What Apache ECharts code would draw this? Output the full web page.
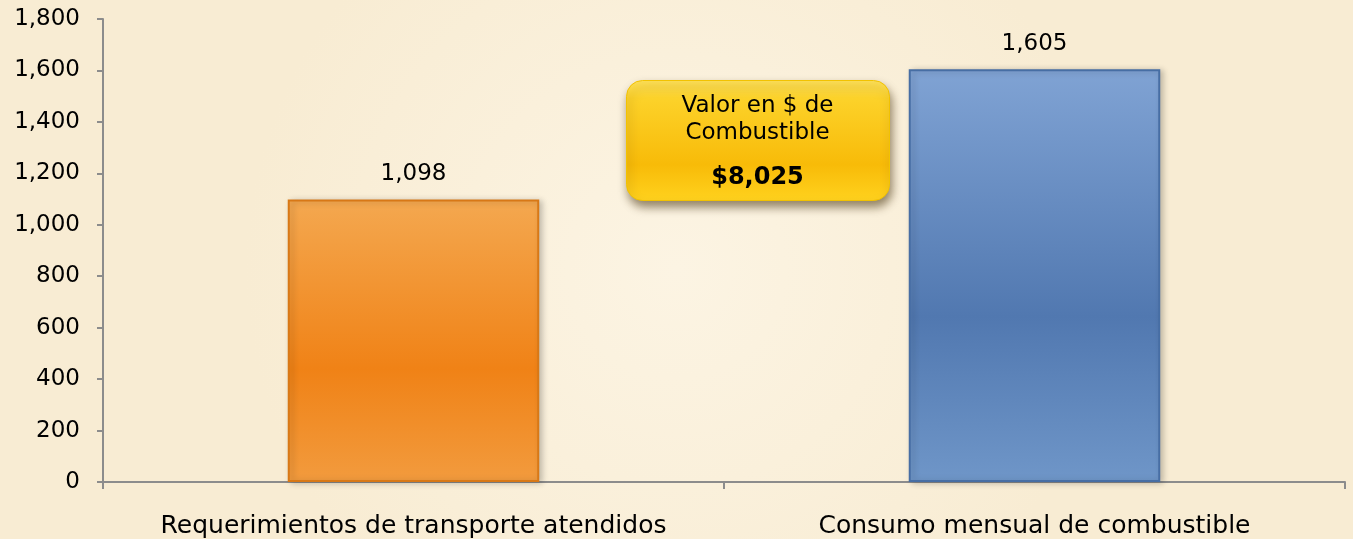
<!DOCTYPE html>
<html>
<head>
<meta charset="utf-8">
<script src="https://cdn.jsdelivr.net/npm/echarts@6/dist/echarts.min.js"></script>
<style>
  html, body { margin: 0; padding: 0; background: #f9efda; }
  #chart { width: 1353px; height: 539px; }
</style>
</head>
<body>
<div id="chart"></div>
<script>
const categories = ['Requerimientos de transporte atendidos', 'Consumo mensual de combustible']
const values = [1098, 1605]
const calloutLines = ['Valor en $ de', 'Combustible']
const calloutValue = '$8,025'

const font = '"DejaVu Sans", "Liberation Sans", sans-serif'

const barColors = [
  { top: '#f4a850', mid: '#f08216', bottom: '#f29b3e', border: '#d87816' },
  { top: '#80a3d4', mid: '#5178b0', bottom: '#6f96c8', border: '#476ea4' },
]

const chart = echarts.init(document.getElementById('chart'))

chart.setOption({
  backgroundColor: {
    type: 'radial', x: 0.5, y: 0.5, r: 0.8,
    colorStops: [
      { offset: 0, color: '#fcf4e3' },
      { offset: 1, color: '#f8ecd3' },
    ],
  },
  textStyle: { fontFamily: font },
  grid: { left: 103, right: 8, top: 19, bottom: 57 },
  xAxis: {
    type: 'category',
    data: categories,
    axisLine: { lineStyle: { color: '#8c8c8c', width: 2 } },
    axisTick: { show: true, length: 7, lineStyle: { color: '#8c8c8c', width: 2 } },
    axisLabel: { interval: 0, color: '#000', fontSize: 25, margin: 32, fontFamily: font },
  },
  yAxis: {
    type: 'value',
    min: 0,
    max: 1800,
    interval: 200,
    axisLine: { show: true, lineStyle: { color: '#8c8c8c', width: 2 } },
    axisTick: { show: true, length: 6, lineStyle: { color: '#8c8c8c', width: 2 } },
    splitLine: { show: false },
    axisLabel: {
      color: '#000', fontSize: 23, margin: 23, fontFamily: font,
      formatter: v => v.toLocaleString('en-US'),
    },
  },
  series: [{
    type: 'bar',
    barWidth: '40.5%',
    data: values.map((v, i) => ({
      value: v,
      itemStyle: {
        color: {
          type: 'linear', x: 0, y: 0, x2: 0, y2: 1,
          colorStops: [
            { offset: 0, color: barColors[i].top },
            { offset: 0.6, color: barColors[i].mid },
            { offset: 1, color: barColors[i].bottom },
          ],
        },
        borderColor: barColors[i].border,
        borderWidth: 2,
        shadowColor: 'rgba(0,0,0,0.22)',
        shadowBlur: 6,
        shadowOffsetX: 3,
        shadowOffsetY: 1,
      },
    })),
    label: {
      show: true,
      position: 'top',
      distance: 14,
      color: '#000',
      fontSize: 23,
      fontFamily: font,
      formatter: p => p.value.toLocaleString('en-US'),
    },
  }],
  graphic: [{
    type: 'group',
    left: 626,
    top: 80,
    children: [
      {
        type: 'rect',
        shape: { x: 0, y: 0, width: 263, height: 120, r: 16 },
        style: {
          fill: {
            type: 'linear', x: 0, y: 0, x2: 0, y2: 1,
            colorStops: [
              { offset: 0, color: '#ffe25a' },
              { offset: 0.15, color: '#fcd22a' },
              { offset: 0.7, color: '#f8bb08' },
              { offset: 1, color: '#ffd21e' },
            ],
          },
          stroke: '#f2c200',
          lineWidth: 1,
          shadowColor: 'rgba(60,40,0,0.55)',
          shadowBlur: 10,
          shadowOffsetX: 2,
          shadowOffsetY: 6,
        },
      },
      {
        type: 'text',
        style: {
          x: 131, y: 26, text: calloutLines[0], align: 'center', verticalAlign: 'middle',
          fill: '#000', font: '23px ' + font,
        },
      },
      {
        type: 'text',
        style: {
          x: 131, y: 53, text: calloutLines[1], align: 'center', verticalAlign: 'middle',
          fill: '#000', font: '23px ' + font,
        },
      },
      {
        type: 'text',
        style: {
          x: 131, y: 97, text: calloutValue, align: 'center', verticalAlign: 'middle',
          fill: '#000', font: 'bold 24px ' + font,
        },
      },
    ],
  }],
})
</script>
</body>
</html>
